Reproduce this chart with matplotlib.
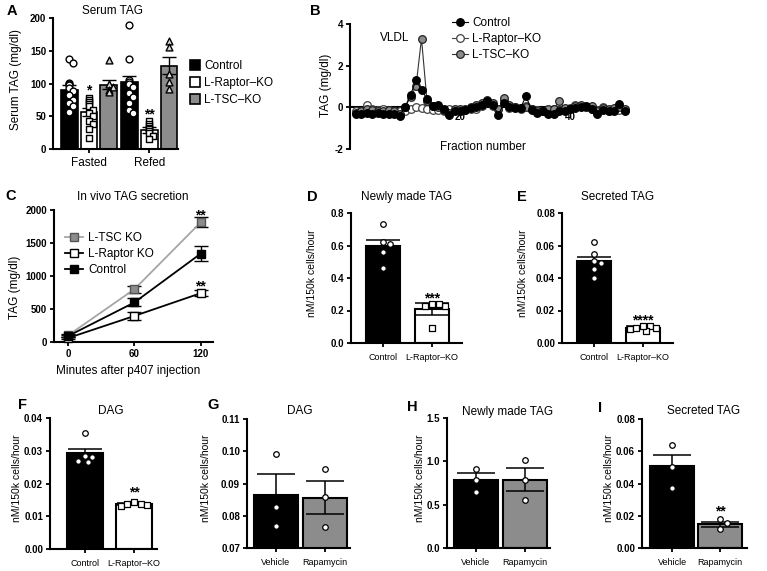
import numpy as np
import matplotlib
matplotlib.use('Agg')
import matplotlib.pyplot as plt
from matplotlib.transforms import Affine2D, offset_copy
from matplotlib.lines import Line2D
from matplotlib.patches import Rectangle

plt.rcParams['font.family'] = ['Liberation Sans', 'DejaVu Sans']

# ---------------- data ----------------
# Panel A: Serum TAG (mg/dl)
a_conditions = ['Fasted', 'Refed']
a_groups = ['Control', 'L-Raptor–KO', 'L-TSC–KO']
a_means_fasted = [90, 56, 98]
a_sems_fasted = [7, 6, 7]
a_means_refed = [103, 29, 127]
a_sems_refed = [9, 4, 13]
a_pts_fasted_control = [137, 131, 101, 100, 97, 93, 88, 82, 75, 70, 65, 56]
a_pts_fasted_raptor = [78, 75, 72, 68, 65, 60, 55, 50, 43, 38, 30, 17]
a_pts_fasted_tsc = [136, 100, 95, 90, 87]
a_pts_refed_control = [190, 138, 105, 103, 100, 95, 85, 80, 70, 60, 55]
a_pts_refed_raptor = [42, 38, 35, 32, 30, 28, 25, 20, 15]
a_pts_refed_tsc = [165, 155, 115, 103, 92]

# Panel B: FPLC fractions, TAG (mg/dl)
b_fraction = list(range(1, 51))
b_control = [-0.3, -0.3, -0.25, -0.3, -0.25, -0.3, -0.3, -0.3, -0.4, 0.0,
             0.6, 1.3, 0.85, 0.4, 0.05, 0.1, -0.1, -0.35, -0.2, -0.2,
             -0.15, -0.05, 0.0, 0.1, 0.3, 0.1, -0.35, 0.2, 0.0, -0.05,
             -0.05, 0.55, -0.15, -0.25, -0.2, -0.3, -0.3, -0.2, -0.2, -0.1,
             -0.05, 0.0, 0.05, -0.1, -0.3, -0.15, -0.2, -0.2, 0.15, -0.2]
b_raptor = [-0.2, -0.2, 0.1, -0.1, -0.15, -0.1, -0.15, -0.2, -0.2, -0.2,
            -0.1, 0.0, -0.05, -0.1, -0.15, -0.15, -0.2, -0.1, -0.15, -0.2,
            -0.15, -0.1, -0.1, 0.05, 0.3, 0.05, -0.1, 0.35, -0.05, 0.0,
            -0.1, 0.05, -0.1, -0.15, -0.2, -0.15, -0.1, -0.15, -0.1, -0.05,
            0.1, 0.05, 0.0, -0.1, -0.15, 0.0, -0.2, -0.15, -0.15, -0.15]
b_tsc = [-0.25, -0.2, -0.1, -0.15, -0.2, -0.2, -0.15, -0.2, -0.3, 0.0,
         0.5, 1.0, 3.3, 0.3, 0.05, 0.0, -0.15, -0.25, -0.1, -0.1,
         -0.1, 0.0, 0.1, 0.2, 0.35, 0.2, -0.1, 0.45, 0.1, 0.0,
         -0.05, 0.0, -0.1, -0.2, -0.2, -0.1, -0.1, 0.3, -0.05, -0.1,
         0.05, 0.1, 0.0, 0.05, -0.2, -0.05, -0.1, -0.05, 0.0, -0.1]
b_labels = ['Control', 'L-Raptor–KO', 'L-TSC–KO']

# Panel C: in vivo TAG secretion
c_minutes = [0, 60, 120]
c_labels = ['L-TSC KO', 'L-Raptor KO', 'Control']
c_tsc_mean = [100, 800, 1815]
c_tsc_sem = [20, 50, 80]
c_raptor_mean = [60, 395, 740]
c_raptor_sem = [15, 60, 45]
c_control_mean = [90, 600, 1340]
c_control_sem = [20, 60, 115]

# Panels D-F
df_cats = ['Control', 'L-Raptor–KO']
d_means = [0.60, 0.21]
d_sems = [0.035, 0.035]
d_pts_control = [0.73, 0.62, 0.61, 0.56, 0.46]
d_pts_raptor = [0.24, 0.225, 0.225, 0.24, 0.095]
e_means = [0.0505, 0.0095]
e_sems = [0.0025, 0.0007]
e_pts_control = [0.062, 0.055, 0.0505, 0.049, 0.0455, 0.040]
e_pts_raptor = [0.0105, 0.0090, 0.0075, 0.0088, 0.0095, 0.0107]
f_means = [0.0292, 0.0137]
f_sems = [0.0013, 0.0004]
f_pts_control = [0.0353, 0.0282, 0.0267, 0.0270, 0.0283]
f_pts_raptor = [0.0145, 0.0138, 0.0130, 0.0134, 0.0137]

# Panels G-I
gi_cats = ['Vehicle', 'Rapamycin']
g_means = [0.0864, 0.0856]
g_sems = [0.0066, 0.0051]
g_pts_vehicle = [0.0992, 0.0828, 0.0768]
g_pts_rapa = [0.0944, 0.0857, 0.0766]
h_means = [0.79, 0.79]
h_sems = [0.07, 0.13]
h_pts_vehicle = [0.91, 0.78, 0.65]
h_pts_rapa = [1.02, 0.79, 0.55]
i_means = [0.0508, 0.0147]
i_sems = [0.0068, 0.0016]
i_pts_vehicle = [0.064, 0.0505, 0.0374]
i_pts_rapa = [0.0178, 0.0152, 0.0115]

# ---------------- figure ----------------
W, H = 767, 571
fig = plt.figure(figsize=(W / 100, H / 100), dpi=100)
PX = Affine2D().scale(1.0 / W, -1.0 / H).translate(0, 1) + fig.transFigure
GRAY = '#8c8c8c'
SPINE_LW = 1.5


def add_ax(x0, y0, x1, y1):
    return fig.add_axes([x0 / W, 1 - y1 / H, (x1 - x0) / W, (y1 - y0) / H])


def ftext(x, y, s, size, weight='normal', ha='center', rotation=0):
    cap = 0.36 * size * 100 / 72
    if rotation == 0:
        fig.text(x, y + cap, s, transform=PX, fontsize=size, fontweight=weight,
                 ha=ha, va='baseline')
    else:
        fig.text(x + cap, y, s, transform=PX, fontsize=size, fontweight=weight,
                 ha='center', va='baseline', rotation=90, rotation_mode='anchor')


def style(ax, yticks, ylabels, ysize=7):
    for s in ['top', 'right']:
        ax.spines[s].set_visible(False)
    for s in ['left', 'bottom']:
        ax.spines[s].set_linewidth(SPINE_LW)
    ax.set_yticks(yticks)
    ax.set_yticklabels(ylabels, fontweight='bold', fontsize=ysize)
    ax.tick_params(axis='both', width=1.3, length=3, pad=2)


def swarm_x(ax, values, center, diam_px, sep=0.92, step_frac=0.55, max_off=None):
    pos = ax.get_position()
    wpx, hpx = pos.width * W, pos.height * H
    x0, x1 = ax.get_xlim()
    y0, y1 = ax.get_ylim()
    sx = wpx / (x1 - x0)
    sy = hpx / (y1 - y0)
    vals = np.asarray(values, float)
    order = np.argsort(-vals)
    placed = []
    out = np.zeros(len(vals))
    for i in order:
        yp = vals[i] * sy
        k = 0
        best = 0.0
        while True:
            step = (k + 1) // 2
            off = step * step_frac * diam_px * (1 if k % 2 == 1 else -1)
            if max_off is not None and abs(off) > max_off:
                off = best
                break
            if all((off - a) ** 2 + (yp - b) ** 2 >= (sep * diam_px) ** 2 for a, b in placed):
                break
            k += 1
        placed.append((off, yp))
        out[i] = center + off / sx
    return out


def stars(ax, x, y, s, size=10):
    tr = offset_copy(ax.transData, fig=fig, y=-0.58 * size, units='points')
    ax.text(x, y, s, transform=tr, ha='center', va='baseline', fontsize=size,
            fontweight='bold', clip_on=False)


# ---------------- Panel A ----------------
axA = add_ax(53, 18, 178, 149)
axA.set_xlim(-0.6, 1.48)
axA.set_ylim(0, 200)
style(axA, [0, 50, 100, 150, 200], ['0', '50', '100', '150', '200'])
axA.set_xticks([0, 1])
axA.set_xticklabels(a_conditions, fontsize=8.5)
axA.tick_params(axis='x', pad=3)
a_offsets = [-0.33, 0.0, 0.33]
a_colors = ['black', 'white', GRAY]
a_markers = ['o', 's', '^']
a_mfc = ['white', 'white', '#d9d9d9']
a_means = [a_means_fasted, a_means_refed]
a_sems = [a_sems_fasted, a_sems_refed]
a_pts = [[a_pts_fasted_control, a_pts_fasted_raptor, a_pts_fasted_tsc],
         [a_pts_refed_control, a_pts_refed_raptor, a_pts_refed_tsc]]
for ci in range(2):
    for gi in range(3):
        xc = ci + a_offsets[gi]
        axA.bar(xc, a_means[ci][gi], width=0.28, color=a_colors[gi],
                edgecolor='black', linewidth=1.2, zorder=2)
        axA.errorbar(xc, a_means[ci][gi], yerr=a_sems[ci][gi], fmt='none',
                     ecolor='black', elinewidth=1.0, capsize=5, capthick=1.0, zorder=3)
        xs = swarm_x(axA, a_pts[ci][gi], xc, 6.5, sep=0.75, step_frac=0.6, max_off=7)
        axA.scatter(xs, a_pts[ci][gi], s=24, marker=a_markers[gi], facecolor=a_mfc[gi],
                    edgecolor='black', linewidth=1.0, zorder=4, clip_on=False)
stars(axA, 0 + a_offsets[1], 96, '*')
stars(axA, 1 + a_offsets[1], 59, '**')
ftext(113, 10, 'Serum TAG', 8.5)
ftext(15, 80, 'Serum TAG (mg/dl)', 8.5, rotation=90)
for gi, (lab, y) in enumerate(zip(a_groups, [65, 82, 98.5])):
    fig.add_artist(Rectangle((189.5, y + 5), 10, -10, transform=PX, facecolor=a_colors[gi],
                             edgecolor='black', linewidth=1.2))
    ftext(204, y, lab, 8.5, ha='left')
ftext(7, 10, 'A', 10.5, weight='bold', ha='left')

# ---------------- Panel B ----------------
axB = add_ax(350, 24, 625, 149)
axB.set_xlim(0, 50)
axB.set_ylim(-2, 4)
style(axB, [-2, 0, 2, 4], ['-2', '0', '2', '4'])
axB.spines['bottom'].set_position(('data', 0))
axB.set_xticks([20, 40])
axB.set_xticklabels(['20', '40'], fontweight='bold', fontsize=7)
axB.tick_params(axis='x', length=2, pad=1)
b_series = [b_control, b_raptor, b_tsc]
b_mfc = ['black', 'white', GRAY]
b_mec = ['black', '#444444', '#222222']
b_lc = ['black', '#444444', '#333333']
b_z = [5, 3, 4]
for ser, mfc, mec, lc, z, lab in zip(b_series, b_mfc, b_mec, b_lc, b_z, b_labels):
    axB.plot(b_fraction, ser, color=lc, linewidth=0.8, marker='o', markersize=5.5,
             markerfacecolor=mfc, markeredgecolor=mec, markeredgewidth=0.9, zorder=z,
             clip_on=False)
for i, (lab, y) in enumerate(zip(b_labels, [22, 38, 54])):
    fig.add_artist(Line2D([452, 468], [y, y], transform=PX, color=b_lc[i], linewidth=0.8))
    fig.add_artist(Line2D([460], [y], transform=PX, marker='o', markersize=5.5,
                          markerfacecolor=b_mfc[i], markeredgecolor=b_mec[i],
                          markeredgewidth=0.9, linestyle='none'))
    ftext(472, y, lab, 8.5, ha='left')
ftext(395, 37, 'VLDL', 8.5)
ftext(483, 146, 'Fraction number', 8.5)
ftext(325, 85, 'TAG (mg/dl)', 8.5, rotation=90)
ftext(310, 10, 'B', 10.5, weight='bold', ha='left')

# ---------------- Panel C ----------------
axC = add_ax(54, 210, 213, 342)
axC.set_xlim(-12.7, 131)
axC.set_ylim(0, 2000)
style(axC, [0, 500, 1000, 1500, 2000], ['0', '500', '1000', '1500', '2000'])
axC.set_xticks(c_minutes)
axC.set_xticklabels([str(m) for m in c_minutes], fontweight='bold', fontsize=7)
c_means = [c_tsc_mean, c_raptor_mean, c_control_mean]
c_sems = [c_tsc_sem, c_raptor_sem, c_control_sem]
c_lc = ['#a6a6a6', 'black', 'black']
c_mfc = [GRAY, 'white', 'black']
c_mec = ['#555555', 'black', 'black']
for m, s, lc, mfc, mec in zip(c_means, c_sems, c_lc, c_mfc, c_mec):
    axC.errorbar(c_minutes, m, yerr=s, color=lc, linewidth=1.3, marker='s', markersize=5.5,
                 markerfacecolor=mfc, markeredgecolor=mec, markeredgewidth=1.0,
                 ecolor='black', elinewidth=1.0, capsize=5, capthick=1.0, zorder=3,
                 clip_on=False)
stars(axC, 120, 1985, '**')
stars(axC, 120, 900, '**')
for i, (lab, y) in enumerate(zip(c_labels, [237, 253, 269])):
    fig.add_artist(Line2D([65, 83], [y, y], transform=PX, color=c_lc[i], linewidth=1.3))
    fig.add_artist(Line2D([74], [y], transform=PX, marker='s', markersize=5.5,
                          markerfacecolor=c_mfc[i], markeredgecolor=c_mec[i],
                          markeredgewidth=1.0, linestyle='none'))
    ftext(88, y, lab, 8.5, ha='left')
ftext(133, 196, 'In vivo TAG secretion', 8.5)
ftext(128, 370, 'Minutes after p407 injection', 8.5)
ftext(14, 287, 'TAG (mg/dl)', 8.5, rotation=90)
ftext(5, 195, 'C', 10.5, weight='bold', ha='left')


# ---------------- bar panels D-I ----------------
def bar_panel(box, xlim, ylim, yticks, ylabels, cats, means, sems, pts_list, colors,
              markers, width, capsize, title, title_xy, ylab_x, letter, letter_xy):
    ax = add_ax(*box)
    ax.set_xlim(*xlim)
    ax.set_ylim(*ylim)
    style(ax, yticks, ylabels)
    x = np.arange(len(cats))
    ax.set_xticks(x)
    ax.set_xticklabels(cats, fontsize=6.5)
    ax.tick_params(axis='x', pad=4)
    ax.bar(x, means, width=width, color=colors, edgecolor='black', linewidth=1.5, zorder=2)
    ax.errorbar(x, means, yerr=sems, fmt='none', ecolor='black', elinewidth=1.1,
                capsize=capsize, capthick=1.1, zorder=3)
    for xi, pts, mk in zip(x, pts_list, markers):
        xs = swarm_x(ax, pts, xi, 6)
        ax.scatter(xs, pts, s=16 if mk == 'o' else 20, marker=mk, facecolor='white',
                   edgecolor='black', linewidth=0.9, zorder=4, clip_on=False)
    ftext(title_xy[0], title_xy[1], title, 8.5)
    yc = (box[1] + box[3]) / 2 - 5
    ftext(ylab_x, yc, 'nM/150k cells/hour', 7.5, rotation=90)
    ftext(letter_xy[0], letter_xy[1], letter, 10.5, weight='bold', ha='left')
    return ax


axD = bar_panel((351, 213, 462, 343), (-0.653, 1.61), (0, 0.8),
                [0, 0.2, 0.4, 0.6, 0.8], ['0.0', '0.2', '0.4', '0.6', '0.8'],
                df_cats, d_means, d_sems, [d_pts_control, d_pts_raptor], ['black', 'white'],
                ['o', 's'], 0.69, 12, 'Newly made TAG', (407, 196), 311, 'D', (307, 196))
stars(axD, 1, 0.30, '***')

axE = bar_panel((562, 213, 673, 343), (-0.653, 1.61), (0, 0.08),
                [0, 0.02, 0.04, 0.06, 0.08], ['0.00', '0.02', '0.04', '0.06', '0.08'],
                df_cats, e_means, e_sems, [e_pts_control, e_pts_raptor], ['black', 'white'],
                ['o', 's'], 0.69, 12, 'Secreted TAG', (618, 196), 522, 'E', (517, 196))
stars(axE, 1, 0.0162, '****')

axF = bar_panel((50, 418, 157, 549), (-0.714, 1.47), (0, 0.04),
                [0, 0.01, 0.02, 0.03, 0.04], ['0.00', '0.01', '0.02', '0.03', '0.04'],
                df_cats, f_means, f_sems, [f_pts_control, f_pts_raptor], ['black', 'white'],
                ['o', 's'], 0.72, 12, 'DAG', (111, 410), 16, 'F', (18, 404))
stars(axF, 1, 0.0185, '**')

axG = bar_panel((247, 419, 350, 548), (-0.59, 1.51), (0.07, 0.11),
                [0.07, 0.08, 0.09, 0.10, 0.11], ['0.07', '0.08', '0.09', '0.10', '0.11'],
                gi_cats, g_means, g_sems, [g_pts_vehicle, g_pts_rapa], ['black', GRAY],
                ['o', 'o'], 0.88, 14, 'DAG', (300, 410), 205, 'G', (207, 404))

axH = bar_panel((447, 418, 550, 548), (-0.59, 1.51), (0, 1.5),
                [0, 0.5, 1.0, 1.5], ['0.0', '0.5', '1.0', '1.5'],
                gi_cats, h_means, h_sems, [h_pts_vehicle, h_pts_rapa], ['black', GRAY],
                ['o', 'o'], 0.88, 14, 'Newly made TAG', (508, 411), 419, 'H', (407, 406))

axI = bar_panel((642, 419, 747, 548), (-0.625, 1.56), (0, 0.08),
                [0, 0.02, 0.04, 0.06, 0.08], ['0.00', '0.02', '0.04', '0.06', '0.08'],
                gi_cats, i_means, i_sems, [i_pts_vehicle, i_pts_rapa], ['black', GRAY],
                ['o', 'o'], 0.92, 14, 'Secreted TAG', (704, 410), 608, 'I', (598, 407))
stars(axI, 1, 0.0252, '**')

fig.savefig('out.png', dpi=100)
